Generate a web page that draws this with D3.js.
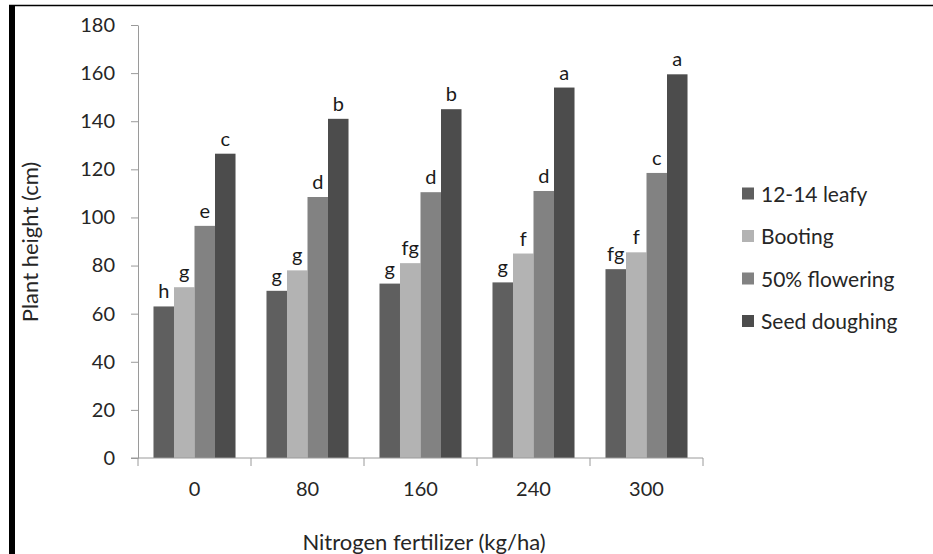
<!DOCTYPE html>
<html>
<head>
<meta charset="utf-8">
<script src="https://cdn.jsdelivr.net/npm/d3@7"></script>
<style>
  html, body { margin: 0; padding: 0; background: #fff; }
  svg { display: block; font-family: Lato, "Open Sans", sans-serif; }
</style>
</head>
<body>
<svg id="chart" width="933" height="554"></svg>
<script>
const categories = ["0", "80", "160", "240", "300"];
const seriesNames = ["12-14 leafy", "Booting", "50% flowering", "Seed doughing"];
const leafy      = [63, 69.5, 72.5, 73, 78.5];
const booting    = [71, 78, 81, 85, 85.5];
const flowering  = [96.5, 108.5, 110.5, 111, 118.5];
const doughing   = [126.5, 141, 145, 154, 159.5];
const lettersLeafy     = ["h", "g", "g", "g", "fg"];
const lettersBooting   = ["g", "g", "fg", "f", "f"];
const lettersFlowering = ["e", "d", "d", "d", "c"];
const lettersDoughing  = ["c", "b", "b", "a", "a"];
const yTicks = [0, 20, 40, 60, 80, 100, 120, 140, 160, 180];
const colors = ["#5f5f5f", "#b3b3b3", "#828282", "#4c4c4c"];

const seriesValues = [leafy, booting, flowering, doughing];
const seriesLetters = [lettersLeafy, lettersBooting, lettersFlowering, lettersDoughing];

const svg = d3.select("#chart");

// frame
svg.append("line").attr("x1", 9).attr("x2", 933).attr("y1", 5.5).attr("y2", 5.5)
  .attr("stroke", "#000").attr("stroke-width", 1.5);
svg.append("rect").attr("x", 9).attr("y", 5).attr("width", 6).attr("height", 549).attr("fill", "#000");

const x0 = d3.scaleBand().domain(categories).range([138, 703]).paddingInner(0).paddingOuter(0);
const x1 = d3.scaleBand().domain(seriesNames).range([0, x0.bandwidth()]).paddingInner(0).paddingOuter(0.755);
const y = d3.scaleLinear().domain([0, 180]).range([458, 25]);

// y axis
const yAxis = svg.append("g").attr("transform", "translate(138,0)")
  .call(d3.axisLeft(y).tickValues(yTicks).tickSize(7).tickPadding(16).tickSizeOuter(0));
yAxis.select(".domain").attr("stroke", "#9a9a9a");
yAxis.selectAll(".tick line").attr("stroke", "#9a9a9a");
yAxis.selectAll(".tick text").attr("font-size", 20).attr("fill", "#262626").attr("font-family", "Lato, sans-serif");

// bars
const groups = svg.append("g").selectAll("g").data(categories).join("g")
  .attr("transform", d => `translate(${x0(d)},0)`);

seriesNames.forEach((s, si) => {
  groups.append("rect")
    .attr("x", x1(s))
    .attr("width", x1.bandwidth())
    .attr("y", (d, ci) => y(seriesValues[si][ci]))
    .attr("height", (d, ci) => y(0) - y(seriesValues[si][ci]))
    .attr("fill", colors[si]);
  groups.append("text")
    .attr("x", x1(s) + x1.bandwidth() / 2)
    .attr("y", (d, ci) => y(seriesValues[si][ci]) - 8)
    .attr("text-anchor", "middle")
    .attr("font-size", 20)
    .attr("fill", "#1a1a1a")
    .text((d, ci) => seriesLetters[si][ci]);
});

// x axis
const xAxisG = svg.append("g").attr("transform", `translate(0,${y(0)})`);
xAxisG.append("line").attr("x1", 131).attr("x2", 703).attr("y1", 0).attr("y2", 0)
  .attr("stroke", "#9a9a9a");
const bounds = categories.map(c => x0(c)).concat([x0(categories[categories.length - 1]) + x0.bandwidth()]);
xAxisG.selectAll("line.tk").data(bounds).join("line").attr("class", "tk")
  .attr("x1", d => d).attr("x2", d => d).attr("y1", 0).attr("y2", 8)
  .attr("stroke", "#9a9a9a");
xAxisG.selectAll("text").data(categories).join("text")
  .attr("x", d => x0(d) + x0.bandwidth() / 2)
  .attr("y", 38)
  .attr("text-anchor", "middle")
  .attr("font-size", 20)
  .attr("fill", "#262626")
  .text(d => d);

// axis titles
svg.append("text").attr("x", 424).attr("y", 550).attr("text-anchor", "middle")
  .attr("font-size", 22).attr("fill", "#262626").text("Nitrogen fertilizer (kg/ha)");
svg.append("text").attr("transform", "translate(38,242) rotate(-90)").attr("text-anchor", "middle")
  .attr("font-size", 22).attr("fill", "#262626").text("Plant height (cm)");

// legend
const legend = svg.append("g").selectAll("g").data(seriesNames).join("g")
  .attr("transform", (d, i) => `translate(742,${194 + i * 42.5})`);
legend.append("rect").attr("x", 0).attr("y", -6.5).attr("width", 12).attr("height", 12)
  .attr("fill", (d, i) => colors[i]);
legend.append("text").attr("x", 19).attr("y", 7.5).attr("font-size", 21).attr("fill", "#262626")
  .text(d => d);
</script>
</body>
</html>
